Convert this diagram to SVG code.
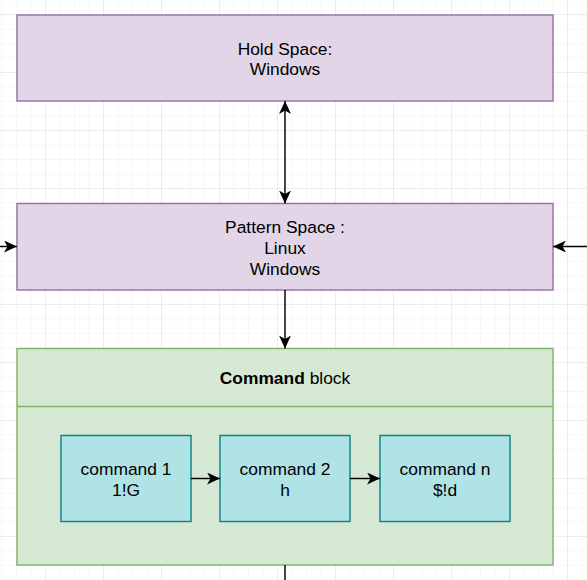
<svg xmlns="http://www.w3.org/2000/svg" width="587" height="580" viewBox="0 0 587 580">
  <defs>
    <pattern id="minor" x="1.5" y="-0.5" width="14.5" height="14.5" patternUnits="userSpaceOnUse">
      <path d="M0,0 V14.5 M0,0 H14.5" fill="none" stroke="#f0f0f0" stroke-width="1"/>
    </pattern>
    <pattern id="major" x="-13" y="14" width="58" height="58" patternUnits="userSpaceOnUse">
      <path d="M0,0 V58 M0,0 H58" fill="none" stroke="#e2e2e2" stroke-width="1"/>
    </pattern>
    <marker id="arr" viewBox="-13 -6 13 12" refX="0" refY="0" markerWidth="13" markerHeight="12" markerUnits="userSpaceOnUse" orient="auto-start-reverse">
      <path d="M0,0 L-13,-6 L-9.5,0 L-13,6 Z" fill="#000"/>
    </marker>
    <style>
      .t { font-family: "Liberation Sans", Arial, sans-serif; font-size: 17.4px; fill: #000; text-anchor: middle; }
      .purple { fill: #e1d5e7; stroke: #9673a6; stroke-width: 1.45; }
      .green { fill: #d5e8d4; stroke: #82b366; stroke-width: 1.45; }
      .teal { fill: #b0e3e6; stroke: #0e8088; stroke-width: 1.45; }
      .edge { fill: none; stroke: #000; stroke-width: 1.45; }
    </style>
  </defs>
  <rect width="587" height="580" fill="#fff"/>
  <rect width="587" height="580" fill="url(#minor)"/>
  <rect width="587" height="580" fill="url(#major)"/>

  <g id="hold-space">
    <rect class="purple" x="17" y="15" width="536" height="86"/>
    <text class="t" x="285" y="54.5">Hold Space:</text>
    <text class="t" x="285" y="75">Windows</text>
  </g>

  <g id="pattern-space">
    <rect class="purple" x="17" y="203.5" width="536" height="86.5"/>
    <text class="t" x="285" y="233">Pattern Space :</text>
    <text class="t" x="285" y="254">Linux</text>
    <text class="t" x="285" y="274.5">Windows</text>
  </g>

  <g id="command-block">
    <rect class="green" x="17" y="348.5" width="536" height="216.5"/>
    <line x1="17" y1="406.5" x2="553" y2="406.5" stroke="#82b366" stroke-width="1.45"/>
    <text class="t" x="285" y="383.5"><tspan font-weight="bold">Command</tspan> block</text>
  </g>

  <g id="command-1">
    <rect class="teal" x="61" y="435.5" width="130" height="86"/>
    <text class="t" x="126" y="475">command 1</text>
    <text class="t" x="126" y="496">1!G</text>
  </g>

  <g id="command-2">
    <rect class="teal" x="220" y="435.5" width="130" height="86"/>
    <text class="t" x="285" y="475">command 2</text>
    <text class="t" x="285" y="496">h</text>
  </g>

  <g id="command-n">
    <rect class="teal" x="380" y="435.5" width="130" height="86"/>
    <text class="t" x="445" y="475">command n</text>
    <text class="t" x="445" y="496">$!d</text>
  </g>

  <g id="connectors">
    <line class="edge" x1="285" y1="101" x2="285" y2="203.5" marker-start="url(#arr)" marker-end="url(#arr)"/>
    <line class="edge" x1="0" y1="246.5" x2="17" y2="246.5" marker-end="url(#arr)"/>
    <line class="edge" x1="587" y1="246.5" x2="553" y2="246.5" marker-end="url(#arr)"/>
    <line class="edge" x1="285" y1="290" x2="285" y2="348.5" marker-end="url(#arr)"/>
    <line class="edge" x1="191" y1="478.5" x2="220" y2="478.5" marker-end="url(#arr)"/>
    <line class="edge" x1="350" y1="478.5" x2="380" y2="478.5" marker-end="url(#arr)"/>
    <line class="edge" x1="285" y1="565" x2="285" y2="580"/>
  </g>
</svg>
